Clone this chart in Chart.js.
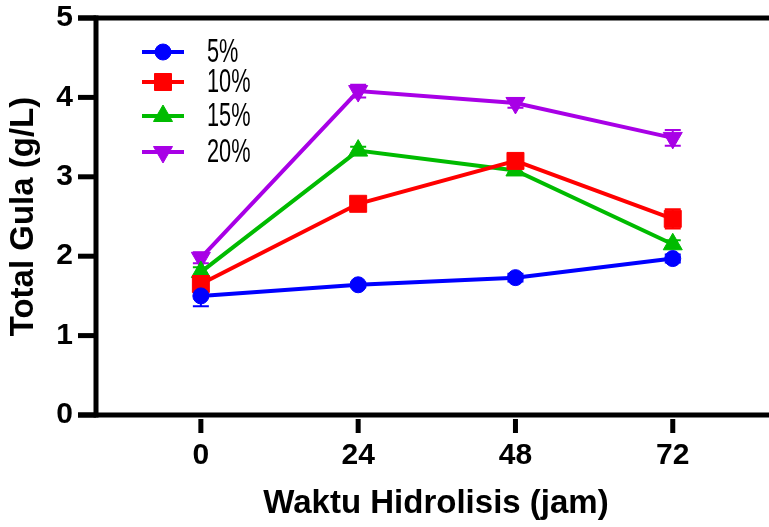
<!DOCTYPE html>
<html>
<head>
<meta charset="utf-8">
<script src="https://cdn.jsdelivr.net/npm/chart.js@4/dist/chart.umd.min.js"></script>
<style>
  html, body { margin: 0; padding: 0; background: #fff; }
  #wrap { width: 769px; height: 527px; }
</style>
</head>
<body>
<div id="wrap"><canvas id="chart" width="769" height="527"></canvas></div>
<script>
// hydrolysis time (jam)
const timeLabels = [0, 24, 48, 72];
const yTicks = [0, 1, 2, 3, 4, 5];

// total sugar (g/L) per concentration
const series5 = [1.50, 1.64, 1.73, 1.97];
const series10 = [1.65, 2.66, 3.20, 2.47];
const series15 = [1.80, 3.33, 3.08, 2.15];
const series20 = [1.98, 4.08, 3.93, 3.49];

// error bars (+/-)
const err5 = [0.13, 0.03, 0.05, 0.05];
const err10 = [0.10, 0.05, 0.05, 0.12];
const err15 = [0.06, 0.05, 0.03, 0.05];
const err20 = [0.07, 0.08, 0.06, 0.10];

const seriesNames = ["5%", "10%", "15%", "20%"];
const xTitle = "Waktu Hidrolisis (jam)";

const BLUE = "#0000ff";
const RED = "#ff0000";
const GREEN = "#00bb00";
const PURPLE = "#a800e6";

const AXIS_FONT = '"Liberation Sans", Arial, sans-serif';

function makeSet(label, values, errors, color, style, radius, rotation) {
  return {
    label: label,
    data: values.map((v, i) => ({ x: timeLabels[i], y: v })),
    errors: errors,
    borderColor: color,
    backgroundColor: color,
    borderWidth: 4,
    pointStyle: style,
    pointRadius: radius,
    pointHoverRadius: radius,
    pointRotation: rotation || 0,
    pointBorderWidth: 1,
    pointBackgroundColor: color,
    pointBorderColor: color,
    tension: 0,
    fill: false,
  };
}

const datasets = [
  makeSet(seriesNames[0], series5, err5, BLUE, "circle", 8),
  makeSet(seriesNames[1], series10, err10, RED, "rect", 12),
  makeSet(seriesNames[2], series15, err15, GREEN, "triangle", 11),
  makeSet(seriesNames[3], series20, err20, PURPLE, "triangle", 11, 180),
];

// axis frame, detached x ticks, error bars
const framePlugin = {
  id: "frame",
  beforeDatasetsDraw(chart) {
    const ctx = chart.ctx;
    const area = chart.chartArea;
    const xs = chart.scales.x;
    const ys = chart.scales.y;
    const lw = 5;
    const leftEnd = 78;
    ctx.save();
    ctx.fillStyle = "#000";
    // y axis
    ctx.fillRect(area.left - lw / 2, area.top - lw / 2, lw, area.bottom - area.top + lw);
    // top line and x axis
    ctx.fillRect(leftEnd, area.top - lw / 2, chart.width - leftEnd, lw);
    ctx.fillRect(leftEnd, area.bottom - lw / 2, chart.width - leftEnd, lw);
    // y ticks
    yTicks.forEach(v => {
      const y = ys.getPixelForValue(v);
      ctx.fillRect(leftEnd, y - lw / 2, area.left - leftEnd, lw);
    });
    // x ticks, separated from axis
    timeLabels.forEach(t => {
      const x = xs.getPixelForValue(t);
      ctx.fillRect(x - lw / 2, area.bottom + 4, lw, 14);
    });

    // x axis title (centred on the full axis, which runs past the right edge)
    ctx.font = "bold 33px " + AXIS_FONT;
    ctx.textAlign = "center";
    ctx.textBaseline = "middle";
    ctx.fillText(xTitle, 436, 504);

    // error bars
    chart.data.datasets.forEach(ds => {
      ctx.strokeStyle = ds.borderColor;
      ctx.lineWidth = 2;
      ds.data.forEach((p, i) => {
        const e = ds.errors[i];
        const x = xs.getPixelForValue(p.x);
        const yHi = ys.getPixelForValue(p.y + e);
        const yLo = ys.getPixelForValue(p.y - e);
        ctx.beginPath();
        ctx.moveTo(x, yHi);
        ctx.lineTo(x, yLo);
        ctx.moveTo(x - 8, yHi);
        ctx.lineTo(x + 8, yHi);
        ctx.moveTo(x - 8, yLo);
        ctx.lineTo(x + 8, yLo);
        ctx.stroke();
      });
    });
    ctx.restore();
  },
  afterDraw(chart) {
    // legend
    const ctx = chart.ctx;
    const rows = [52, 82, 116, 152];
    ctx.save();
    chart.data.datasets.forEach((ds, i) => {
      const y = rows[i];
      ctx.strokeStyle = ds.borderColor;
      ctx.fillStyle = ds.borderColor;
      ctx.lineWidth = 4;
      ctx.beginPath();
      ctx.moveTo(142, y);
      ctx.lineTo(184, y);
      ctx.stroke();
      ctx.lineWidth = 1;
      Chart.helpers.drawPoint(ctx, {
        pointStyle: ds.pointStyle,
        radius: ds.pointRadius,
        rotation: ds.pointRotation,
        borderWidth: 1,
      }, 163, y);

      ctx.save();
      ctx.translate(207, y + 1);
      ctx.scale(0.64, 1);
      ctx.fillStyle = "#000";
      ctx.font = '34px "Liberation Sans", Arial, sans-serif';
      ctx.textBaseline = "middle";
      ctx.textAlign = "left";
      ctx.fillText(ds.label, 0, 0);
      ctx.restore();
    });
    ctx.restore();
  },
};

new Chart(document.getElementById("chart"), {
  type: "line",
  data: { datasets: datasets },
  plugins: [framePlugin],
  options: {
    responsive: false,
    animation: false,
    devicePixelRatio: 1,
    layout: { padding: { top: 18, right: 0, left: 0, bottom: 0 } },
    plugins: {
      legend: { display: false },
      tooltip: { enabled: false },
    },
    scales: {
      x: {
        type: "linear",
        min: -16,
        max: 84.7,
        afterBuildTicks: scale => {
          scale.ticks = timeLabels.map(v => ({ value: v }));
        },
        afterFit: scale => {
          scale.height = 112;
        },
        grid: { display: false, drawTicks: false },
        border: { display: false },
        ticks: {
          autoSkip: false,
          maxRotation: 0,
          padding: 23,
          color: "#000",
          font: { family: AXIS_FONT, size: 30, weight: "bold" },
        },
        title: { display: false },
      },
      y: {
        min: 0,
        max: 5,
        afterBuildTicks: scale => {
          scale.ticks = yTicks.map(v => ({ value: v }));
        },
        afterFit: scale => {
          scale.width = 96;
          scale.paddingTop = 0;
          scale.paddingBottom = 0;
        },
        grid: { display: false, drawTicks: false },
        border: { display: false },
        ticks: {
          padding: 23,
          color: "#000",
          font: { family: AXIS_FONT, size: 30, weight: "bold" },
        },
        title: {
          display: true,
          text: "Total Gula (g/L)",
          color: "#000",
          font: { family: AXIS_FONT, size: 33, weight: "bold", lineHeight: 1 },
          padding: { top: 7, bottom: 0 },
        },
      },
    },
  },
});
</script>
</body>
</html>
